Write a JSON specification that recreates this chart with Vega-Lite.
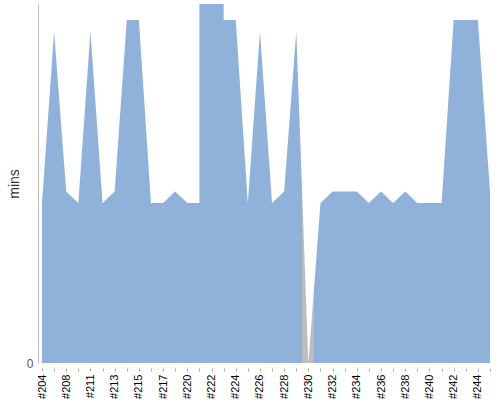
{
  "$schema": "https://vega.github.io/schema/vega-lite/v6.json",
  "width": 448,
  "height": 359,
  "autosize": "none",
  "padding": {"left": 42, "top": 4, "right": 10, "bottom": 37},
  "background": "white",
  "config": {"view": {"stroke": null}},
  "data": {
    "values": [
      {"build": "#204", "mins": 14},
      {"build": "#206", "mins": 29},
      {"build": "#208", "mins": 15},
      {"build": "#209", "mins": 14},
      {"build": "#211", "mins": 29},
      {"build": "#212", "mins": 14},
      {"build": "#213", "mins": 15},
      {"build": "#214", "mins": 30},
      {"build": "#215", "mins": 30},
      {"build": "#216", "mins": 14},
      {"build": "#217", "mins": 14},
      {"build": "#218", "mins": 15},
      {"build": "#220", "mins": 14},
      {"build": "#221", "mins": 14},
      {"build": "#221", "mins": 31.4},
      {"build": "#222", "mins": 31.4},
      {"build": "#223", "mins": 31.4},
      {"build": "#223", "mins": 30},
      {"build": "#224", "mins": 30},
      {"build": "#225", "mins": 14},
      {"build": "#226", "mins": 29},
      {"build": "#227", "mins": 14},
      {"build": "#228", "mins": 15},
      {"build": "#229", "mins": 29},
      {"build": "#230", "mins": 0},
      {"build": "#231", "mins": 14},
      {"build": "#232", "mins": 15},
      {"build": "#233", "mins": 15},
      {"build": "#234", "mins": 15},
      {"build": "#235", "mins": 14},
      {"build": "#236", "mins": 15},
      {"build": "#237", "mins": 14},
      {"build": "#238", "mins": 15},
      {"build": "#239", "mins": 14},
      {"build": "#240", "mins": 14},
      {"build": "#241", "mins": 14},
      {"build": "#242", "mins": 30},
      {"build": "#243", "mins": 30},
      {"build": "#244", "mins": 30},
      {"build": "#245", "mins": 15}
    ]
  },
  "mark": {
    "type": "area",
    "order": false,
    "color": {
      "gradient": "linear",
      "x1": 0, "x2": 1, "y1": 0, "y2": 0,
      "stops": [
        {"offset": 0, "color": "#8fb1da"},
        {"offset": 0.5811, "color": "#8fb1da"},
        {"offset": 0.5811, "color": "#bdbdbd"},
        {"offset": 0.6081, "color": "#bdbdbd"},
        {"offset": 0.6081, "color": "#8fb1da"},
        {"offset": 1, "color": "#8fb1da"}
      ]
    }
  },
  "encoding": {
    "x": {
      "field": "build",
      "type": "ordinal",
      "scale": {"type": "point", "padding": 0},
      "axis": {
        "title": null,
        "offset": 5,
        "domain": false,
        "ticks": true,
        "tickSize": 3,
        "tickColor": "#aaaaaa",
        "labelAngle": 270,
        "labelAlign": "right",
        "labelBaseline": "middle",
        "labelFont": "Liberation Sans",
        "labelFontSize": 11,
        "labelColor": "#000000",
        "labelPadding": 3,
        "labelOverlap": "parity",
        "labelSeparation": 4
      }
    },
    "y": {
      "field": "mins",
      "type": "quantitative",
      "stack": null,
      "scale": {"domain": [0, 31.4], "nice": false},
      "axis": {
        "title": "mins",
        "titleFont": "Liberation Sans",
        "titleFontSize": 14,
        "titleFontWeight": "normal",
        "titleColor": "#333333",
        "titlePadding": 5,
        "offset": 4,
        "values": [0],
        "grid": false,
        "domain": true,
        "domainColor": "#bbbbbb",
        "ticks": false,
        "labelFont": "Liberation Sans",
        "labelFontSize": 12,
        "labelColor": "#555555",
        "labelPadding": 5
      }
    }
  }
}
